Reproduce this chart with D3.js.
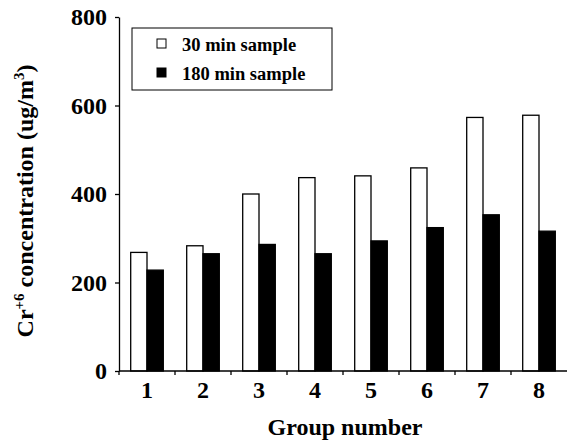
<!DOCTYPE html>
<html>
<head>
<meta charset="utf-8">
<script src="https://cdn.jsdelivr.net/npm/d3@7"></script>
<style>
  body { margin: 0; background: #fff; }
  text { font-family: "Liberation Serif", "Times New Roman", serif; font-weight: bold; fill: #000; }
</style>
</head>
<body>
<div id="chart"></div>
<script>
// groups along the bottom axis
var groups = ["1", "2", "3", "4", "5", "6", "7", "8"];

// the two sample series (ug/m3)
var series = ["30 min sample", "180 min sample"];
var sample30 = [268, 283, 400, 437, 441, 459, 573, 578];
var sample180 = [228, 265, 286, 265, 294, 324, 353, 316];

// y tick values
var yTicks = [0, 200, 400, 600, 800];

var width = 568;
var height = 441;

// plot area edges (note: "top" is taken by window.top, so prefix them)
var plotLeft = 119, plotRight = 567, plotTop = 17, plotBottom = 371;

var svg = d3.select("#chart")
  .append("svg")
  .attr("width", width)
  .attr("height", height);

var y = d3.scaleLinear().domain([0, 800]).range([plotBottom, plotTop]);

var x0 = d3.scaleBand()
  .domain(groups)
  .range([plotLeft, plotRight])
  .paddingInner(0.418)
  .paddingOuter(0.209);

var x1 = d3.scaleBand()
  .domain(series)
  .range([0, x0.bandwidth()]);

var rows = groups.map(function(g, i) {
  return { group: g, values: [sample30[i], sample180[i]] };
});

// bars
var grp = svg.selectAll(".grp")
  .data(rows)
  .enter().append("g")
  .attr("transform", function(d) { return "translate(" + x0(d.group) + ",0)"; });

grp.selectAll("rect")
  .data(function(d) { return d.values.map(function(v, k) { return { s: series[k], v: v, k: k }; }); })
  .enter().append("rect")
  .attr("x", function(d) { return x1(d.s); })
  .attr("y", function(d) { return y(d.v); })
  .attr("width", x1.bandwidth())
  .attr("height", function(d) { return plotBottom - y(d.v); })
  .attr("fill", function(d) { return d.k == 0 ? "#fff" : "#000"; })
  .attr("stroke", "#000")
  .attr("stroke-width", 1.3);

// y axis
var yAxis = d3.axisLeft(y).tickValues(yTicks).tickSize(4).tickSizeOuter(0).tickPadding(8);
var gy = svg.append("g")
  .attr("transform", "translate(" + plotLeft + ",0)")
  .call(yAxis);
gy.select(".domain").attr("stroke", "#000").attr("stroke-width", 1.3);
gy.selectAll(".tick line").attr("stroke", "#000").attr("stroke-width", 1.3);
gy.selectAll(".tick text")
  .style("font-size", "24px")
  .style("font-family", "Liberation Serif, serif")
  .style("font-weight", "bold");

// x axis line with ticks at the band edges
svg.append("line")
  .attr("x1", plotLeft).attr("x2", plotRight)
  .attr("y1", plotBottom).attr("y2", plotBottom)
  .attr("stroke", "#000").attr("stroke-width", 1.3);

var edges = groups.map(function(g) { return x0(g) - x0.step() * x0.paddingOuter(); });
svg.selectAll(".xtick")
  .data(edges)
  .enter().append("line")
  .attr("x1", function(d) { return d; })
  .attr("x2", function(d) { return d; })
  .attr("y1", plotBottom)
  .attr("y2", plotBottom + 4)
  .attr("stroke", "#000").attr("stroke-width", 1.3);

svg.selectAll(".xlab")
  .data(groups)
  .enter().append("text")
  .attr("x", function(d) { return x0(d) + x0.bandwidth() / 2; })
  .attr("y", 398)
  .attr("text-anchor", "middle")
  .style("font-size", "24px")
  .text(function(d) { return d; });

// axis titles
svg.append("text")
  .attr("x", 345)
  .attr("y", 435)
  .attr("text-anchor", "middle")
  .style("font-size", "24px")
  .text("Group number");

var yTitle = svg.append("text")
  .attr("transform", "translate(33,201) rotate(-90)")
  .attr("text-anchor", "middle")
  .style("font-size", "24px");
yTitle.append("tspan").text("Cr");
yTitle.append("tspan").attr("dy", -9).style("font-size", "15px").text("+6");
yTitle.append("tspan").attr("dy", 9).text(" concentration (ug/m");
yTitle.append("tspan").attr("dy", -9).style("font-size", "15px").text("3");
yTitle.append("tspan").attr("dy", 9).text(")");

// legend
var legend = svg.append("g");
legend.append("rect")
  .attr("x", 132).attr("y", 28)
  .attr("width", 200).attr("height", 62)
  .attr("fill", "#fff")
  .attr("stroke", "#000").attr("stroke-width", 1);

legend.selectAll(".key")
  .data(series)
  .enter().append("rect")
  .attr("x", 157)
  .attr("y", function(d, i) { return 39 + i * 29; })
  .attr("width", 9).attr("height", 9)
  .attr("fill", function(d, i) { return i == 0 ? "#fff" : "#000"; })
  .attr("stroke", "#000").attr("stroke-width", 1);

legend.selectAll(".ltext")
  .data(series)
  .enter().append("text")
  .attr("x", 182)
  .attr("y", function(d, i) { return 51 + i * 29; })
  .style("font-size", "18.5px")
  .text(function(d) { return d; });
</script>
</body>
</html>
